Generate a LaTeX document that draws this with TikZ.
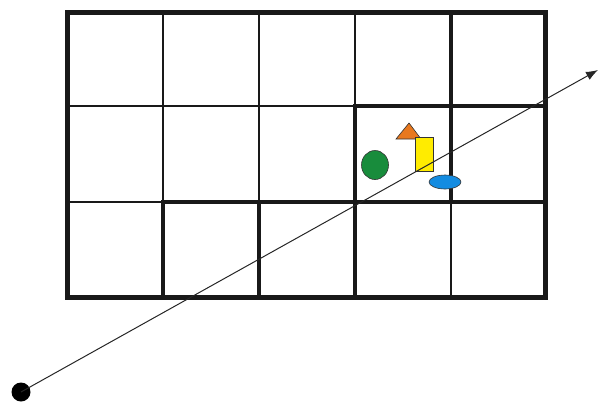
\documentclass[tikz,border=0pt]{standalone}
\usetikzlibrary{arrows.meta,shapes.geometric}
\begin{document}
\begin{tikzpicture}[x=1pt,y=-1pt,
  thin grid/.style={line width=1.6pt,draw=black!90},
  thick cell/.style={line width=4.2pt,draw=black!90,line cap=rect},
  outer/.style={line width=5pt,draw=black!90,line join=miter},
  obj/.style={draw=black!80,line width=0.6pt}]
\useasboundingbox (0,0) rectangle (599,405);
% thin grid
\foreach \x in {163,259,355,451} \draw[thin grid] (\x,12) -- (\x,297);
\foreach \y in {106,202} \draw[thin grid] (67,\y) -- (545,\y);
% traversed cells
\draw[thick cell] (163,202) rectangle (355,297);
\draw[thick cell] (259,202) -- (259,297);
\draw[thick cell] (355,106) rectangle (545,202);
\draw[thick cell] (451,12) rectangle (545,202);
% outer
\draw[outer] (67,12) rectangle (545,297);
% objects
\node[obj,fill={rgb,255:red,24;green,140;blue,60},ellipse,minimum width=27pt,minimum height=29pt,inner sep=0pt] (circ) at (375,165) {};
\draw[obj,fill={rgb,255:red,232;green,120;blue,30}] (409,123) -- (421,139) -- (396,139) -- cycle;
\node[obj,fill={rgb,255:red,255;green,236;blue,0},minimum width=18pt,minimum height=34pt,inner sep=0pt] (rectobj) at (424,154) {};
\node[obj,fill={rgb,255:red,20;green,140;blue,225},ellipse,minimum width=32pt,minimum height=14pt,inner sep=0pt] (ell) at (445,182) {};
% ray
\node[circle,fill=black,minimum size=19pt,inner sep=0pt] (start) at (21,392) {};
\coordinate (end) at (598,70);
\draw[line width=1pt,draw=black!85,-{Latex[length=12pt,width=9pt]}] (start.center) -- (end);
\end{tikzpicture}
\end{document}
